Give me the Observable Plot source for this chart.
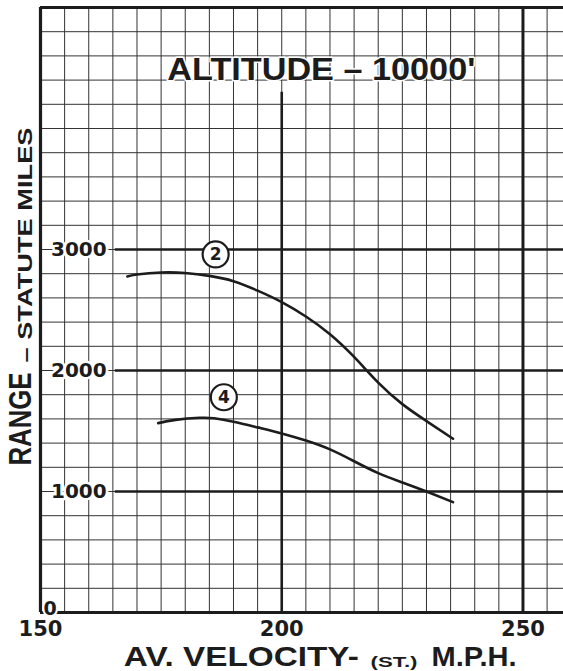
<!DOCTYPE html>
<html>
<head>
<meta charset="utf-8">
<script src="https://cdn.jsdelivr.net/npm/d3@7"></script>
<script src="https://cdn.jsdelivr.net/npm/@observablehq/plot@0.6"></script>
<style>
  html, body { margin: 0; padding: 0; background: #fff; }
  #chart svg { display: block; }
</style>
</head>
<body>
<div id="chart"></div>
<script>
// ---- data ----
const titleText = "ALTITUDE – 10000'";
const xTitleMain = "AV. VELOCITY-";
const xTitleSmall = "(ST.)";
const xTitleUnit = "M.P.H.";
const yTitleMain = "RANGE";
const yTitleRest = "– STATUTE MILES";
const xTicks = [150, 200, 250];
const yTicks = [1000, 2000, 3000];
const yZeroTick = [0];
const gridX = d3.range(155, 256, 5);
const gridY = d3.range(200, 4801, 200);
const majorY = [1000, 2000, 3000];
const speed2 = [168, 170, 175, 180, 185, 190, 195, 200, 205, 210, 215, 220, 225, 230, 235.5];
const range2 = [2777, 2793, 2810, 2806, 2782, 2738, 2660, 2565, 2446, 2300, 2112, 1900, 1722, 1582, 1436];
const speed4 = [174.4, 178, 183, 186, 190, 195, 200, 205, 210, 215, 220, 225, 230, 235.5];
const range4 = [1565, 1592, 1609, 1605, 1577, 1530, 1480, 1421, 1348, 1250, 1152, 1075, 1000, 912];
const curveLabels = ["2", "4"];
const labelSpeed = [186.3, 188.0];
const labelRange = [2959, 1779];

const rows = [
  ...speed2.map((s, i) => ({series: "2", speed: s, range: range2[i]})),
  ...speed4.map((s, i) => ({series: "4", speed: s, range: range4[i]}))
];
const labels = curveLabels.map((t, i) => ({t, speed: labelSpeed[i], range: labelRange[i]}));

const ink = "#1c1c1c";
const sans = "Liberation Sans, Arial, sans-serif";
const wide = "DejaVu Sans, Verdana, sans-serif";

const chart = Plot.plot({
  width: 563,
  height: 671,
  marginLeft: 40,
  marginRight: 0,
  marginTop: 7,
  marginBottom: 59,
  x: {domain: [150, 258.4], axis: null},
  y: {domain: [0, 5000], axis: null},
  style: {background: "#fff"},
  marks: [
    // fine grid
    Plot.ruleX(gridX, {x: d => d, stroke: "#333", strokeWidth: 1}),
    Plot.ruleY(gridY, {y: d => d, stroke: "#333", strokeWidth: 1}),
    // heavy lines
    Plot.ruleY(majorY, {y: d => d, x1: 165.5, x2: 258.4, stroke: ink, strokeWidth: 2.6}),
    Plot.ruleX([200], {x: d => d, y1: 0, y2: 4300, stroke: ink, strokeWidth: 2.6}),
    Plot.ruleX([250], {x: d => d, stroke: ink, strokeWidth: 3}),
    Plot.ruleX([150], {x: d => d, stroke: ink, strokeWidth: 3.2}),
    Plot.ruleY([0], {y: d => d, stroke: ink, strokeWidth: 3.2}),
    Plot.ruleY([5000], {y: d => d, stroke: ink, strokeWidth: 3.2}),
    // curves
    Plot.line(rows, {x: "speed", y: "range", z: "series", curve: "natural", stroke: ink, strokeWidth: 2.6}),
    // circled curve numbers
    Plot.dot(labels, {x: "speed", y: "range", r: 13, fill: "white", stroke: ink, strokeWidth: 2.2}),
    Plot.text(labels, {x: "speed", y: "range", text: "t", fontSize: 17, fontWeight: "bold", fontFamily: wide, fill: ink}),
    // title
    Plot.text([titleText], {frameAnchor: "top", lineAnchor: "middle", dx: 19.3, dy: 62.5, text: d => d, fontSize: 32,
      fontWeight: "bold", fontFamily: sans, fill: ink, stroke: "white", strokeWidth: 3}),
    // y tick labels
    Plot.text(yTicks, {x: 150, y: d => d, text: d => String(d), dx: 10.5, textAnchor: "start", fontSize: 20,
      fontWeight: "bold", fontFamily: wide, fill: ink, stroke: "white", strokeWidth: 5}),
    Plot.text(yZeroTick, {x: 150, y: d => d, text: d => String(d), dx: 3, dy: -4, textAnchor: "start", fontSize: 19,
      fontWeight: "bold", fontFamily: wide, fill: ink, stroke: "white", strokeWidth: 4}),
    // x tick labels
    Plot.text(xTicks, {x: d => d, frameAnchor: "bottom", lineAnchor: "middle", dy: 16.5, text: d => String(d), fontSize: 21,
      fontWeight: "bold", fontFamily: wide, fill: ink}),
    // x axis title
    Plot.text([xTitleMain], {frameAnchor: "bottom-left", lineAnchor: "middle", dx: 83.3, dy: 44.7, text: d => d,
      textAnchor: "start", fontSize: 28, fontWeight: "bold", fontFamily: sans, fill: ink}),
    Plot.text([xTitleSmall], {frameAnchor: "bottom-left", lineAnchor: "middle", dx: 330, dy: 49.5, text: d => d,
      textAnchor: "start", fontSize: 15, fontWeight: "bold", fontFamily: sans, fill: ink}),
    Plot.text([xTitleUnit], {frameAnchor: "bottom-left", lineAnchor: "middle", dx: 391, dy: 44.7, text: d => d,
      textAnchor: "start", fontSize: 28, fontWeight: "bold", fontFamily: sans, fill: ink}),
    // y axis title
    Plot.text([yTitleMain], {frameAnchor: "left", lineAnchor: "middle", dx: -19, dy: 155.5, rotate: -90, text: d => d,
      textAnchor: "start", fontSize: 31, fontWeight: "bold", fontFamily: sans, fill: ink}),
    Plot.text([yTitleRest], {frameAnchor: "left", lineAnchor: "middle", dx: -15, dy: 52.5, rotate: -90, text: d => d,
      textAnchor: "start", fontSize: 21, fontWeight: "bold", fontFamily: sans, fill: ink})
  ]
});

// stretch hand-lettered titles to the letter spacing of the original
const lengths = new Map([[titleText, 308], [xTitleMain, 235], [xTitleSmall, 47], [xTitleUnit, 85],
  [yTitleMain, 93], [yTitleRest, 235]]);
chart.querySelectorAll("text").forEach(t => {
  const len = lengths.get(t.textContent);
  if (len) {
    t.setAttribute("textLength", len);
    t.setAttribute("lengthAdjust", "spacingAndGlyphs");
  }
});
document.getElementById("chart").appendChild(chart);
</script>
</body>
</html>
